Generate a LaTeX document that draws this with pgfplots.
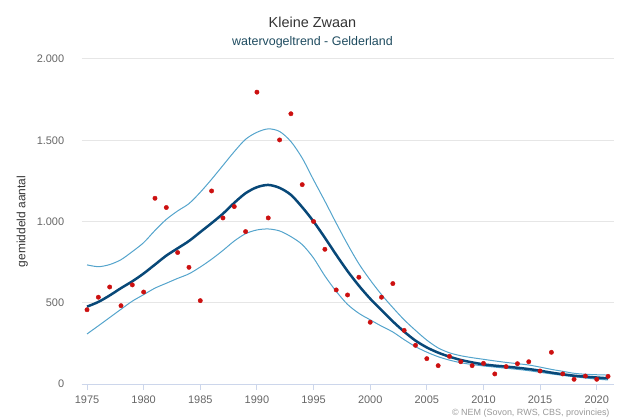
\documentclass[border=0pt]{standalone}
\usepackage{pgfplots}
\pgfplotsset{compat=1.18}
\usepackage{pgfplotstable}
\usepackage{fontspec}
\setmainfont{Liberation Sans}
\definecolor{trend}{RGB}{8,72,120}
\definecolor{band}{RGB}{84,164,204}
\definecolor{pts}{RGB}{204,16,16}
\definecolor{gridc}{RGB}{230,230,230}
\definecolor{axc}{RGB}{204,214,235}
\definecolor{labc}{RGB}{102,102,102}
\definecolor{titc}{RGB}{51,51,51}
\definecolor{subc}{RGB}{30,75,95}
\definecolor{credc}{RGB}{153,153,153}

\pgfplotstableread{
year cnt trend upper lower
1975 457 476 733 308
1976 534 505 722 358
1977 597 545 735 409
1978 482 590 765 460
1979 610 632 815 510
1980 566 680 870 550
1981 1143 735 945 590
1982 1086 790 1013 620
1983 809 835 1065 650
1984 718 880 1110 678
1985 513 935 1180 720
1986 1188 990 1260 768
1987 1022 1048 1345 822
1988 1092 1115 1430 880
1989 938 1174 1506 925
1990 1796 1211 1549 948
1991 1022 1225 1570 954
1992 1502 1207 1554 942
1993 1663 1164 1492 907
1994 1227 1088 1390 858
1995 1000 1000 1256 775
1996 829 900 1125 665
1997 579 795 990 570
1998 548 695 860 490
1999 657 605 740 435
2000 380 525 640 395
2001 534 455 550 356
2002 618 385 470 320
2003 330 322 395 273
2004 238 267 330 230
2005 156 225 270 196
2006 113 193 222 168
2007 170 168 192 147
2008 137 148 174 131
2009 113 133 162 120
2010 127 121 152 111
2011 62 113 142 104
2012 107 107 133 97
2013 125 100 125 90
2014 137 92 117 82
2015 80 82 104 72
2016 195 70 90 62
2017 62 60 78 53
2018 29 51 66 45
2019 49 45 60 37
2020 29 40 57 30
2021 47 35 55 25
}\datatable

\begin{document}
\begin{tikzpicture}[x=1bp,y=1bp]
\path[use as bounding box] (0,0) rectangle (617,417);
\begin{axis}[
  at={(81.7bp,33bp)}, anchor=south west,
  scale only axis, width=532bp, height=325bp,
  xmin=1974.53, xmax=2021.5, ymin=0, ymax=2000,
  axis x line*=bottom, axis y line*=left,
  x axis line style={draw=axc, line width=1bp, -},
  y axis line style={draw=none},
  xtick={1975,1980,...,2020},
  ytick={0,500,1000,1500,2000},
  tick align=outside,
  xtick style={draw=axc, line width=1bp},
  major tick length=6bp,
  ytick style={draw=none},
  ymajorgrids, grid style={draw=gridc, line width=1bp},
  /pgf/number format/assume math mode=true,
  xticklabel style={font=\fontsize{11}{13}\selectfont, text=labc, /pgf/number format/1000 sep={}, yshift=-2bp},
  yticklabel style={font=\fontsize{11}{13}\selectfont, text=labc, /pgf/number format/1000 sep={.}, xshift=-8bp},
  ylabel={gemiddeld aantal},
  ylabel style={font=\fontsize{12}{14}\selectfont, text=titc, yshift=2bp},
  clip=false,
]
\addplot[band, line width=1bp, smooth] table[x=year, y=upper] {\datatable};
\addplot[band, line width=1bp, smooth] table[x=year, y=lower] {\datatable};
\addplot[trend, line width=2.5bp, smooth] table[x=year, y=trend] {\datatable};
\addplot[only marks, mark=*, mark size=2.2bp, mark options={fill=pts, draw=pts}] table[x=year, y=cnt] {\datatable};
\end{axis}
\node[font=\fontsize{14.5}{17}\selectfont, text=titc] at (312.5,395) {Kleine Zwaan};
\node[font=\fontsize{12.5}{15}\selectfont, text=subc] at (312.5,375) {watervogeltrend - Gelderland};
\node[font=\fontsize{9}{11}\selectfont, text=credc, anchor=base east] at (613,2) {© NEM (Sovon, RWS, CBS, provincies)};
\end{tikzpicture}
\end{document}
